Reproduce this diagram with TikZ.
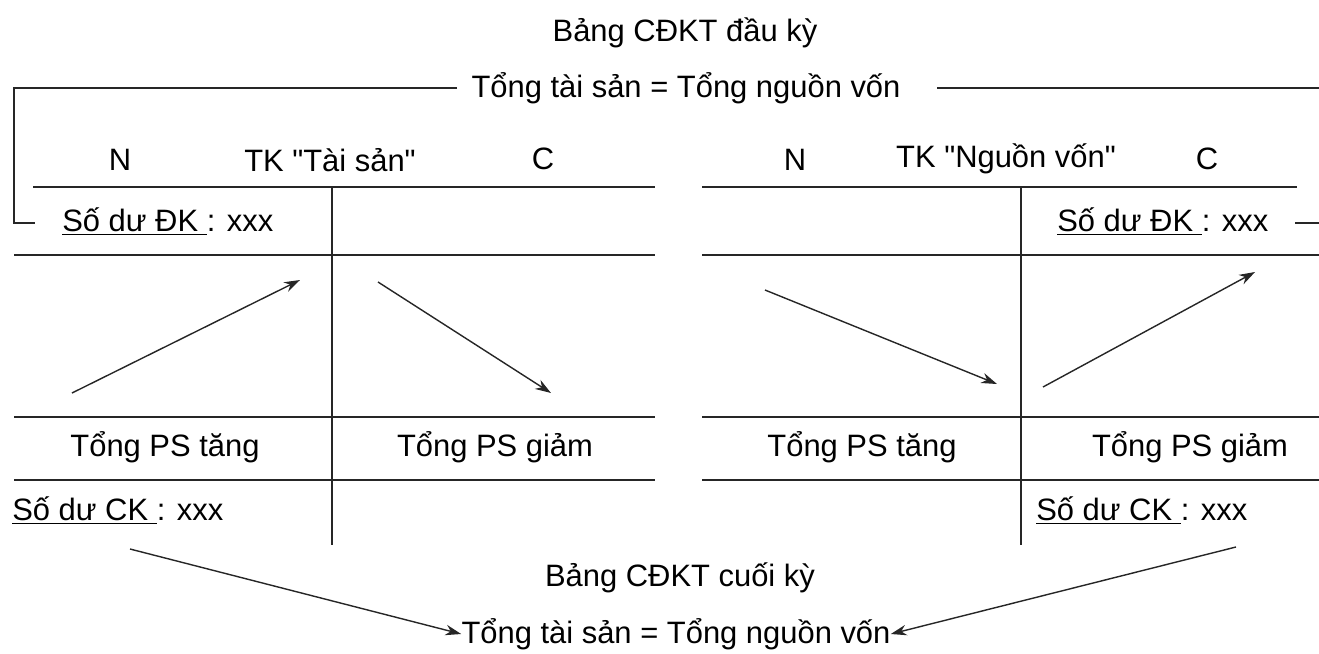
\documentclass[tikz,border=0pt]{standalone}
\usepackage{fontspec}
\setmainfont{Liberation Sans}
% plain family without TeX ligatures, so " stays a straight quote
\newfontfamily\labelfont{Liberation Sans}
\usetikzlibrary{arrows.meta}
\begin{document}
\begin{tikzpicture}[x=0.02cm,y=-0.02cm,
  rule/.style={line width=0.8pt,black!85},
  flow/.style={line width=0.8pt,black!85,-{Stealth[length=9pt,width=6pt]}},
  lbl/.style={inner sep=0pt,font=\labelfont\fontsize{17.6}{20}\selectfont},
  lblw/.style={lbl,anchor=west}]
\useasboundingbox (0,0) rectangle (1319,653);

% headings
\node[lbl] (open) at (685,33) {Bảng CĐKT đầu kỳ};
\node[lbl] (eqtop) at (686,88) {Tổng tài sản = Tổng nguồn vốn};
\node[lbl] (close) at (680,578) {Bảng CĐKT cuối kỳ};
\node[lbl] (eqbot) at (676,634) {Tổng tài sản = Tổng nguồn vốn};

% bracket linking opening balances
\coordinate (bl0) at (457,88);
\coordinate (bl) at (14,88);
\coordinate (blb) at (14,223);
\coordinate (ble) at (35,223);
\coordinate (br0) at (937,88);
\coordinate (br) at (1319,88);
\coordinate (brs) at (1295,223);
\coordinate (bre) at (1319,223);
\draw[rule] (bl0) -- (bl) -- (blb) -- (ble);
\draw[rule] (br0) -- (br);
\draw[rule] (brs) -- (bre);

% ---------- T account: assets ----------
\node[lbl] (aN) at (120,160) {N};
\node[lbl] (aT) at (330,160) {TK "Tài sản"};
\node[lbl] (aC) at (543,159) {C};
\coordinate (a1l) at (33,187);  \coordinate (a1r) at (655,187);
\coordinate (a2l) at (14,255);  \coordinate (a2r) at (655,255);
\coordinate (a3l) at (14,417);  \coordinate (a3r) at (655,417);
\coordinate (a4l) at (14,480);  \coordinate (a4r) at (655,480);
\coordinate (avt) at (332,187); \coordinate (avb) at (332,545);
\draw[rule] (a1l) -- (a1r);
\draw[rule] (a2l) -- (a2r);
\draw[rule] (a3l) -- (a3r);
\draw[rule] (a4l) -- (a4r);
\draw[rule] (avt) -- (avb);
\node[lblw] (aDK) at (62,222) {\underline{Số dư ĐK }: xxx};
\node[lbl] (aInc) at (165,447) {Tổng PS tăng};
\node[lbl] (aDec) at (495,447) {Tổng PS giảm};
\node[lblw] (aCK) at (12,511) {\underline{Số dư CK }: xxx};
\coordinate (aup0) at (72,393);  \coordinate (aup1) at (300,280);
\coordinate (adn0) at (378,282); \coordinate (adn1) at (551,393);
\draw[flow] (aup0) -- (aup1);
\draw[flow] (adn0) -- (adn1);

% ---------- T account: capital ----------
\node[lbl] (cN) at (795,160) {N};
\node[lbl] (cT) at (1006,159) {TK "Nguồn vốn"};
\node[lbl] (cC) at (1207,159) {C};
\coordinate (c1l) at (702,187);  \coordinate (c1r) at (1297,187);
\coordinate (c2l) at (702,255);  \coordinate (c2r) at (1319,255);
\coordinate (c3l) at (702,417);  \coordinate (c3r) at (1319,417);
\coordinate (c4l) at (702,480);  \coordinate (c4r) at (1319,480);
\coordinate (cvt) at (1021,187); \coordinate (cvb) at (1021,545);
\draw[rule] (c1l) -- (c1r);
\draw[rule] (c2l) -- (c2r);
\draw[rule] (c3l) -- (c3r);
\draw[rule] (c4l) -- (c4r);
\draw[rule] (cvt) -- (cvb);
\node[lblw] (cDK) at (1057,222) {\underline{Số dư ĐK }: xxx};
\node[lbl] (cInc) at (862,447) {Tổng PS tăng};
\node[lbl] (cDec) at (1190,447) {Tổng PS giảm};
\node[lblw] (cCK) at (1036,511) {\underline{Số dư CK }: xxx};
\coordinate (cdn0) at (765,290);  \coordinate (cdn1) at (997,384);
\coordinate (cup0) at (1043,387); \coordinate (cup1) at (1255,272);
\draw[flow] (cdn0) -- (cdn1);
\draw[flow] (cup0) -- (cup1);

% closing balances feed the closing statement
\coordinate (lk0) at (130,549);
\coordinate (rk0) at (1236,547);
\draw[flow] (lk0) -- (eqbot.west);
\draw[flow] (rk0) -- (eqbot.east);
\end{tikzpicture}
\end{document}
